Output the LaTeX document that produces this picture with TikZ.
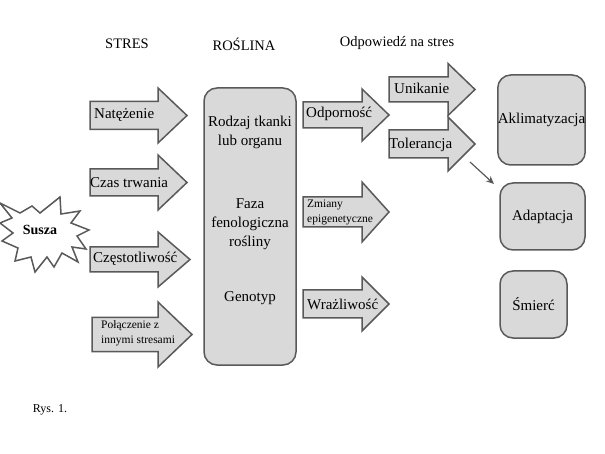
\documentclass[tikz,border=0pt]{standalone}
\usepackage{fontspec}
\setmainfont{Liberation Serif}
\usetikzlibrary{arrows.meta}
\definecolor{boxfill}{HTML}{D9D9D9}
\definecolor{boxline}{HTML}{595959}
\newcommand\blockarrow[6]{%
  \draw[arrowshape] (#1,#4-#5) -- (#2,#4-#5) -- (#2,#4-#6) -- (#3,#4)
    -- (#2,#4+#6) -- (#2,#4+#5) -- (#1,#4+#5) -- cycle;}
\tikzset{
  arrowshape/.style={draw=boxline, fill=boxfill, line width=1.5pt, line join=miter},
  rbox/.style={draw=boxline, fill=boxfill, line width=1.5pt, rounded corners=13pt,
    inner sep=0pt, font=\fontsize{15}{18}\selectfont},
  txt/.style={inner sep=0pt, font=\fontsize{15}{18}\selectfont},
  smalltxt/.style={inner sep=0pt, align=left, font=\fontsize{11.5}{15}\selectfont},
  head/.style={inner sep=0pt, font=\fontsize{14.5}{17}\selectfont},
  link/.style={draw=boxline, line width=1.2pt, -{Stealth[length=8pt,width=7pt]}}
}
\begin{document}
\begin{tikzpicture}[x=1pt,y=-1pt]
\useasboundingbox (0,0) rectangle (605,454);
% headings
\node[head] (hstres) at (127,44) {STRES};
\node[head] (hros) at (244,44) {ROŚLINA};
\node[head] (hodp) at (397,43) {Odpowiedź na stres};
% star
\draw[draw=boxline, fill=white, line width=1.5pt, line join=miter]
  (0,203) -- (20,213) -- (32,206) -- (40,213) -- (60,197) -- (61,214)
  -- (80,211) -- (71,223) -- (89,230) -- (77,236) -- (86,249) -- (72,247)
  -- (78,262) -- (62,253) -- (54,267) -- (47,257) -- (35,272) -- (31,257)
  -- (15,261) -- (18,248) -- (2,241) -- (13,233) -- (0,223) -- (12,218) -- cycle;
\node[inner sep=0pt, font=\fontsize{14}{17}\selectfont\bfseries] (susza) at (40,230) {Susza};
% left arrows
\blockarrow{90}{158}{187}{115.5}{14}{27.5}
\node[txt, anchor=west] (nat) at (94,115) {Natężenie};
\blockarrow{90}{158}{187}{182.5}{13.5}{27.5}
\node[txt, anchor=west] (czas) at (90,183) {Czas trwania};
\blockarrow{90}{158}{190}{259.5}{12.5}{27.5}
\node[txt, anchor=west] (czest) at (93,259) {Częstotliwość};
\blockarrow{92}{158}{192}{334.5}{17}{32.5}
\node[smalltxt, anchor=west] (pol) at (101,333) {Połączenie z\\innymi stresami};
% plant box
\node[rbox, minimum width=92pt, minimum height=277pt] (ros) at (250,226.5) {};
\node[txt, align=center, font=\fontsize{15}{19}\selectfont] (tkanka) at (250,132) {Rodzaj tkanki\\lub organu};
\node[txt, align=center, font=\fontsize{15}{19}\selectfont] (faza) at (250,224) {Faza\\fenologiczna\\rośliny};
\node[txt] (geno) at (250,298) {Genotyp};
% right arrows
\blockarrow{303}{362}{389}{115}{13}{26}
\node[txt, anchor=west] (odp) at (306,114) {Odporność};
\blockarrow{303}{362}{389}{212}{15}{30}
\node[smalltxt, anchor=west] (zmiany) at (307,212) {Zmiany\\epigenetyczne};
\blockarrow{303}{362}{389}{304}{14}{27}
\node[txt, anchor=west] (wraz) at (307,304) {Wrażliwość};
\blockarrow{389}{448}{475}{89.5}{12.5}{26}
\node[txt, anchor=west] (unik) at (394,88) {Unikanie};
\blockarrow{389}{448}{475}{144}{14}{27}
\node[txt, anchor=west] (tol) at (389,145) {Tolerancja};
% outcome boxes
\node[rbox, minimum width=87pt, minimum height=90pt] (aklim) at (541.5,120) {Aklimatyzacja};
\node[rbox, minimum width=85pt, minimum height=67pt] (adapt) at (542.5,216.5) {Adaptacja};
\node[rbox, minimum width=67pt, minimum height=67pt] (smierc) at (533.5,304.5) {Śmierć};
% small arrow
\coordinate (sa) at (470,162);
\coordinate (sb) at (494,184);
\draw[link] (sa) -- (sb);
% caption
\node[inner sep=0pt, font=\fontsize{12}{14}\selectfont] (rys) at (50,410) {Rys. 1.};
\end{tikzpicture}
\end{document}
